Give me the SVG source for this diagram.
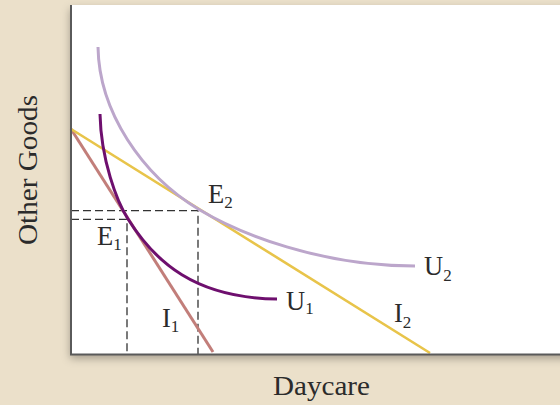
<svg xmlns="http://www.w3.org/2000/svg" width="560" height="405" viewBox="0 0 560 405">
  <defs>
    <filter id="shadow" x="-10%" y="-10%" width="120%" height="125%">
      <feDropShadow dx="-1" dy="4" stdDeviation="4" flood-color="#000" flood-opacity="0.3"/>
    </filter>
    <style>
      .lbl { font-family: "Liberation Serif", "Times New Roman", serif; font-size: 26.5px; fill: #2b2b2b; }
      .sub { font-size: 17px; }
      .axis { stroke: #5a5a5a; stroke-width: 2; fill: none; }
      .dash { stroke: #333; stroke-width: 1.3; stroke-dasharray: 8 4; fill: none; }
      .curve { fill: none; stroke-width: 3; stroke-linecap: butt; }
    </style>
  </defs>
  <rect x="0" y="0" width="560" height="405" fill="#EBE0CA"/>
  <rect x="71" y="5" width="500" height="349.5" fill="#FFFFFF" filter="url(#shadow)"/>

  <g id="connectors">
    <path class="dash" d="M71,210.7 H198 V354"/>
    <path class="dash" d="M71,219.3 H127 V354"/>
    <line id="I1-line" x1="71" y1="129" x2="213" y2="352" stroke="#C27E7A" stroke-width="3"/>
    <line id="I2-line" x1="71" y1="129" x2="430" y2="353" stroke="#E8C44A" stroke-width="2.6"/>
    <path id="U2-curve" class="curve" stroke="#BCA6CB" d="M98,47 C99,112 142,175 199,209.5 C240,234 320,266 415,266"/>
    <path id="U1-curve" class="curve" stroke="#6E0F6E" d="M100,114 C101,160 117,202 128,219 C155,262 195,298 277,299"/>
  </g>

  <g id="axes">
    <line class="axis" x1="71" y1="5" x2="71" y2="355"/>
    <line class="axis" x1="70" y1="354.5" x2="560" y2="354.5"/>
  </g>

  <g id="E1"><text class="lbl" x="97" y="245">E<tspan class="sub" dy="5">1</tspan></text></g>
  <g id="E2"><text class="lbl" x="208" y="203">E<tspan class="sub" dy="5">2</tspan></text></g>
  <g id="I1"><text class="lbl" x="162" y="327">I<tspan class="sub" dy="5">1</tspan></text></g>
  <g id="I2"><text class="lbl" x="394" y="322">I<tspan class="sub" dy="6">2</tspan></text></g>
  <g id="U1"><text class="lbl" x="286" y="310">U<tspan class="sub" dy="4">1</tspan></text></g>
  <g id="U2"><text class="lbl" x="424" y="275">U<tspan class="sub" dy="6">2</tspan></text></g>

  <text class="lbl" x="273" y="395" textLength="97" lengthAdjust="spacingAndGlyphs">Daycare</text>
  <text class="lbl" style="font-size:28px" transform="translate(37,245) rotate(-90)" x="0" y="0" textLength="150" lengthAdjust="spacingAndGlyphs">Other Goods</text>
</svg>
